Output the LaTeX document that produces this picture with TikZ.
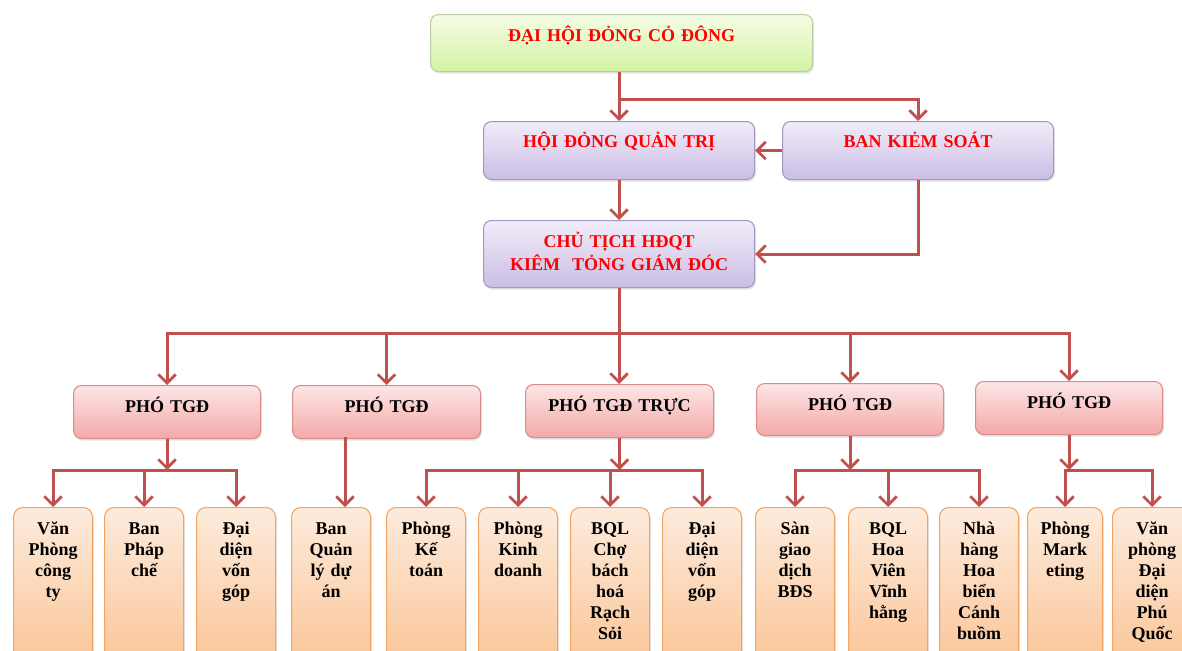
\documentclass[tikz,border=0pt]{standalone}
\usepackage{fontspec}
\setmainfont{Liberation Serif}
\usetikzlibrary{arrows.meta,shadows}
\definecolor{arrc}{HTML}{C0504D}
\definecolor{grnt}{HTML}{F5FDE6}
\definecolor{grnb}{HTML}{D3F3A2}
\definecolor{grnd}{HTML}{B9CFA0}
\definecolor{purt}{HTML}{F1EDF9}
\definecolor{purb}{HTML}{CBBDE5}
\definecolor{purd}{HTML}{A596C0}
\definecolor{pnkt}{HTML}{FDE6E6}
\definecolor{pnkb}{HTML}{F3A8A8}
\definecolor{pnkd}{HTML}{D98C8A}
\definecolor{orgt}{HTML}{FDEBDC}
\definecolor{orgb}{HTML}{FAC08E}
\definecolor{orgd}{HTML}{F4A460}
\begin{document}
\begin{tikzpicture}[x=0.75pt,y=-0.75pt,
  base/.style={rounded corners=6pt, inner sep=0pt, anchor=north west, align=center,
    line width=0.8pt,
    font=\fontsize{13.5}{16.5}\selectfont\bfseries,
    drop shadow={opacity=0.22, shadow xshift=1pt, shadow yshift=-1.5pt}},
  gbox/.style={base, draw=grnd, top color=grnt, bottom color=grnb, text=red},
  pbox/.style={base, draw=purd, top color=purt, bottom color=purb, text=red,
    minimum width=203.25pt, text width=195pt},
  rbox/.style={base, draw=pnkd, top color=pnkt, bottom color=pnkb, text=black,
    text width=135pt, text height=20.25pt, text depth=19.5pt},
  obox/.style={base, rounded corners=7pt, draw=orgd, top color=orgt, bottom color=orgb, text=black,
    minimum width=59.25pt, text width=56pt, text height=20.25pt, text depth=114.75pt,
    font=\fontsize{13.5}{15.75}\selectfont\bfseries},
  ln/.style={draw=arrc, line width=2.25pt},
  arr/.style={ln, -{Straight Barb[length=6.5pt,width=13pt,line width=2.1pt]}}
]
\useasboundingbox (0,0) rectangle (1182,650);
\clip (0,0) rectangle (1182,650);

% top levels
\node[gbox, minimum width=286.5pt, text width=280pt, text height=20.25pt, text depth=22.5pt] (dh) at (430,14) {ĐẠI HỘI ĐỎNG CỎ ĐÔNG};
\node[pbox, text height=19.5pt, text depth=24pt] (hd) at (483,121) {HỘI ĐỎNG QUẢN TRỊ};
\node[pbox, text height=19.5pt, text depth=24pt] (bks) at (782,121) {BAN KIẺM SOÁT};
\node[pbox, text height=20.25pt, text depth=30pt, font=\fontsize{13.5}{17.25}\selectfont\bfseries] (ct) at (483,220) {CHỦ TỊCH HĐQT\\KIÊM\ \ TỎNG GIÁM ĐÓC};

% deputies
\node[rbox, minimum width=140.25pt] (p1) at (73,385) {PHÓ TGĐ};
\node[rbox, minimum width=141pt] (p2) at (292,385) {PHÓ TGĐ};
\node[rbox, minimum width=141pt] (p3) at (525,384) {PHÓ TGĐ TRỰC};
\node[rbox, minimum width=140.25pt, text depth=18.75pt] (p4) at (756,383) {PHÓ TGĐ};
\node[rbox, minimum width=140.25pt] (p5) at (975,381) {PHÓ TGĐ};

% departments
\node[obox] (b1) at (13,507) {Văn\\Phòng\\công\\ty};
\node[obox] (b2) at (104,507) {Ban\\Pháp\\chế};
\node[obox] (b3) at (196,507) {Đại\\diện\\vốn\\góp};
\node[obox] (b4) at (291,507) {Ban\\Quản\\lý dự\\án};
\node[obox] (b5) at (386,507) {Phòng\\Kế\\toán};
\node[obox] (b6) at (478,507) {Phòng\\Kinh\\doanh};
\node[obox] (b7) at (570,507) {BQL\\Chợ\\bách\\hoá\\Rạch\\Sỏi};
\node[obox] (b8) at (662,507) {Đại\\diện\\vốn\\góp};
\node[obox] (b9) at (755,507) {Sàn\\giao\\dịch\\BĐS};
\node[obox] (b10) at (848,507) {BQL\\Hoa\\Viên\\Vĩnh\\hằng};
\node[obox] (b11) at (939,507) {Nhà\\hàng\\Hoa\\biển\\Cánh\\buồm};
\node[obox, minimum width=56.25pt, text width=54pt] (b12) at (1027,507) {Phòng\\Mark\\eting};
\node[obox] (b13) at (1112,507) {Văn\\phòng\\Đại\\diện\\Phú\\Quốc};

% connectors, top part
\coordinate (j1) at (hd.north |- 0,99);
\draw[arr] (dh.south -| hd.north) -- (hd.north);
\draw[arr] (j1) -| (bks.north);
\draw[arr] (bks.west) -- (hd.east);
\draw[arr] (hd.south) -- (ct.north);
\draw[arr] (bks.south) |- (ct.east);

% to deputies
\coordinate (cb) at (ct.south |- 0,333);
\draw[ln] (ct.south) -- (cb);
\draw[arr] (cb) -| (p1.north);
\draw[arr] (cb) -| (p2.north);
\draw[arr] (cb) -- (cb |- p3.north);
\draw[arr] (cb) -| (p4.north);
\draw[arr] (cb) -| (p5.north);

% group 1
\coordinate (s1) at (p1.south |- 0,470);
\draw[arr] (p1.south) -- (s1);
\draw[arr] (s1) -| (b1.north);
\draw[arr] (s1) -| (b2.north);
\draw[arr] (s1) -| (b3.north);
% group 2
\coordinate (s2) at (345,437);
\coordinate (e2) at (345,507);
\draw[arr] (s2) -- (e2);
% group 3
\coordinate (s3) at (p3.south |- 0,470);
\draw[arr] (p3.south) -- (s3);
\draw[arr] (s3) -| (b5.north);
\draw[arr] (s3) -| (b6.north);
\draw[arr] (s3) -| (b7.north);
\draw[arr] (s3) -| (b8.north);
% group 4
\coordinate (s4) at (p4.south |- 0,470);
\draw[arr] (p4.south) -- (s4);
\draw[arr] (s4) -| (b9.north);
\draw[arr] (s4) -| (b10.north);
\draw[arr] (s4) -| (b11.north);
% group 5
\coordinate (s5) at (p5.south |- 0,470);
\draw[arr] (p5.south) -- (s5);
\draw[arr] (s5) -| (b12.north);
\draw[arr] (s5) -| (b13.north);
\end{tikzpicture}
\end{document}
